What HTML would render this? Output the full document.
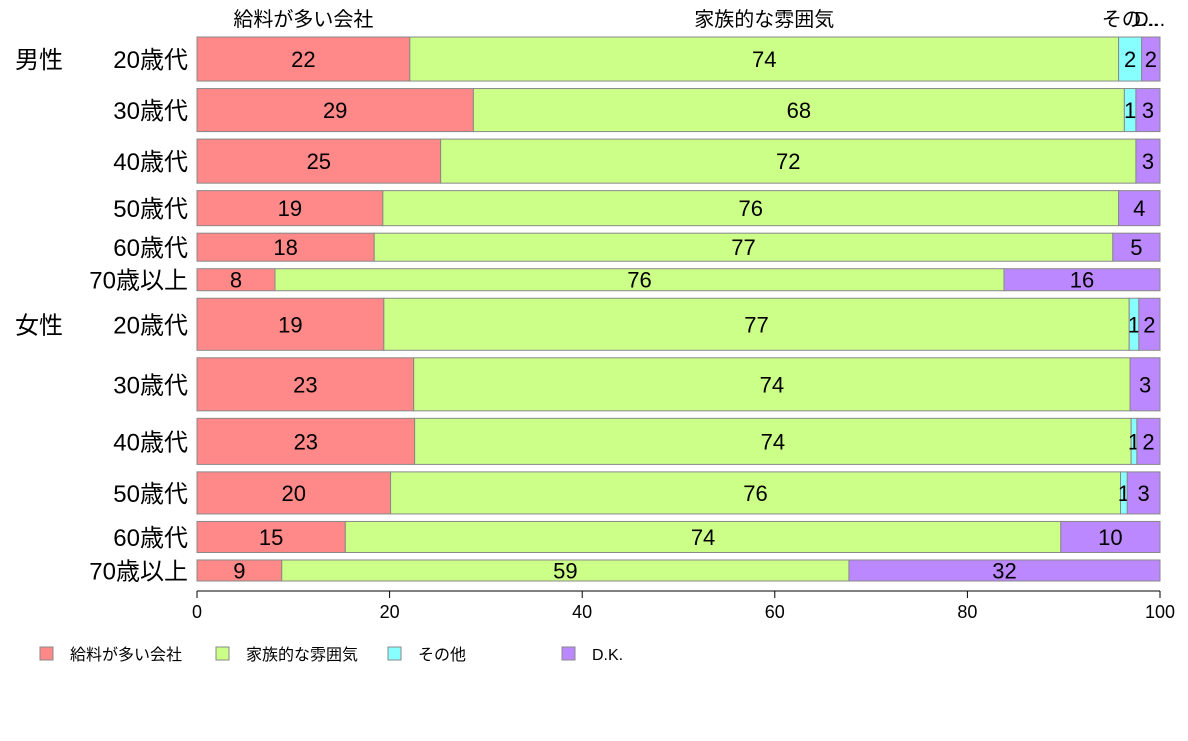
<!DOCTYPE html>
<html><head><meta charset="utf-8"><style>
body{margin:0;background:#fff;}
svg text{font-family:"Liberation Sans","Noto Sans CJK JP",sans-serif;}
</style></head><body>
<svg id="chart" width="1188" height="736" xmlns="http://www.w3.org/2000/svg"></svg>
<script>
const groups = ["男性","","","","","","女性","","","","",""];
const ages = ["20歳代","30歳代","40歳代","50歳代","60歳代","70歳以上","20歳代","30歳代","40歳代","50歳代","60歳代","70歳以上"];
const sampleSize = [44,43,44,35,28,22,52,53,46,42,31,21];
const seriesNames = ["給料が多い会社","家族的な雰囲気","その他","D.K."];
const salary = [22.1,28.7,25.3,19.3,18.4,8.1,19.4,22.5,22.6,20.1,15.4,8.8];
const family = [73.6,67.6,72.2,76.4,76.7,75.7,77.4,74.4,74.4,75.8,74.3,58.9];
const other  = [2.4,1.2,0,0,0,0,1.0,0,0.6,0.7,0,0];
const dk     = [1.9,2.5,2.5,4.3,4.9,16.2,2.2,3.1,2.4,3.4,10.3,32.3];
const xTicks = [0,20,40,60,80,100];

const colors = ["#FF8888","#CCFF88","#88FFFF","#BB88FF"];
const svg = document.getElementById('chart');
const NS = "http://www.w3.org/2000/svg";
const X0=197, X1=1160, Y0=37, Y1=581;
const x = v => X0 + (X1-X0)*v/100;
const gap = 7.5;
const totalN = sampleSize.reduce((a,b)=>a+b,0);
const hScale = (Y1-Y0-gap*(sampleSize.length-1))/totalN;
function el(tag, attrs, text){const e=document.createElementNS(NS,tag);for(const k in attrs)e.setAttribute(k,attrs[k]);if(text!==undefined)e.textContent=text;svg.appendChild(e);return e;}
const series=[salary,family,other,dk];
let y=Y0;
for(let i=0;i<ages.length;i++){
  const h=sampleSize[i]*hScale;
  let cum=0;
  for(let s=0;s<4;s++){
    const v=series[s][i];
    if(v>0){
      const r=el('rect',{x:x(cum),y:y,width:x(cum+v)-x(cum),height:h,fill:colors[s],stroke:'#888','stroke-width':1});
      
      
      const t=el('text',{x:(x(cum)+x(cum+v))/2,y:y+h/2+8,'text-anchor':'middle','font-size':22,fill:'#000'},Math.round(v));
      
      
      if(i===0){
        let lbl=seriesNames[s]; const w=x(cum+v)-x(cum);
        if(w<40) lbl=s===2?"その...":"D...";
        const tl=el('text',{x:s===3?x(cum)+8:(x(cum)+x(cum+v))/2,y:26,'text-anchor':'middle','font-size':20},lbl);
        
        
      }
    }
    cum+=v;
  }
  const a=el('text',{x:188,y:y+h/2+9,'text-anchor':'end','font-size':24},ages[i]);
  
  
  if(groups[i]){
    const g=el('text',{x:15,y:y+h/2+9,'font-size':24},groups[i]);
    
    
  }
  y+=h+gap;
}
const ax=el('line',{x1:X0,x2:X1,y1:591,y2:591,stroke:'#000'});


xTicks.forEach(t=>{
  const tk=el('line',{x1:x(t),x2:x(t),y1:591,y2:598,stroke:'#000'});
  
  
  const tl=el('text',{x:x(t),y:618,'text-anchor':'middle','font-size':18},t);
  
  
});
const legX=[40,216,388,562];
seriesNames.forEach((n,s)=>{
  const r=el('rect',{x:legX[s],y:647,width:13,height:13,fill:colors[s],stroke:'#888'});
  
  
  const t=el('text',{x:legX[s]+30,y:660,'font-size':16},n);
  
  
});
</script>
</body></html>
